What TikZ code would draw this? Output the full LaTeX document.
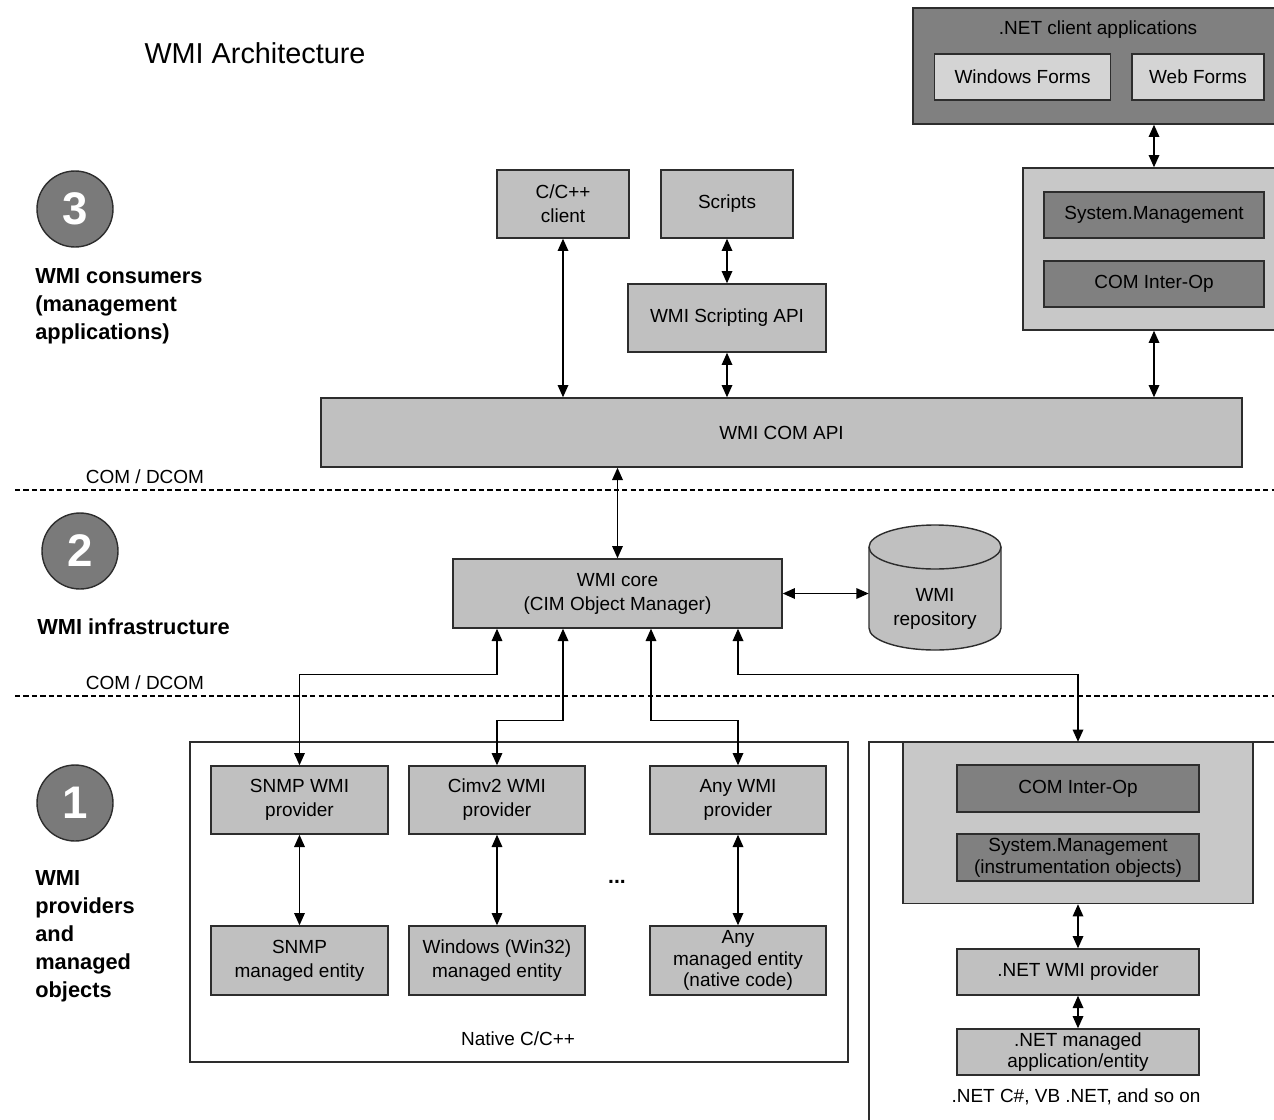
\documentclass[tikz,border=0pt]{standalone}
\usepackage{fontspec}
\setmainfont{Liberation Sans}
\usetikzlibrary{arrows.meta}
\definecolor{boxfill}{RGB}{192,192,192}
\definecolor{darkfill}{RGB}{128,128,128}
\definecolor{lightfill}{RGB}{212,212,212}
\definecolor{panelfill}{RGB}{200,200,200}
\definecolor{tierfill}{RGB}{122,122,122}
\definecolor{edge}{RGB}{45,45,45}
\begin{document}
\begin{tikzpicture}[
  x=0.02cm, y=-0.02cm,
  every node/.style={font=\fontsize{10.8}{13.6}\selectfont, inner sep=0pt, align=center},
  box/.style={draw=edge, line width=0.8pt, fill=boxfill, minimum height=1.36cm},
  darkbox/.style={box, fill=darkfill, minimum height=0.92cm},
  panel/.style={draw=edge, line width=0.8pt, fill=panelfill},
  frame/.style={draw=edge, line width=0.8pt},
  link/.style={<->, >={Triangle[length=7pt,width=6pt]}, line width=0.9pt},
  layer/.style={line width=0.6pt, dash pattern=on 3pt off 1.8pt},
  num/.style={circle, draw=edge, line width=0.8pt, fill=tierfill, minimum size=1.52cm,
    text=white, font=\fontsize{26}{26}\bfseries\selectfont},
  tier/.style={anchor=west, align=left, font=\fontsize{12.4}{15.9}\bfseries\selectfont}]

  \useasboundingbox (0,0) rectangle (1274,1119);
  \clip (0,0) rectangle (1274,1119);

  \node[font=\fontsize{16.4}{20}\selectfont] (title) at (255,53) {WMI Architecture};

  % tiers
  \node[num] (tier3) at (75,209) {3};
  \node[tier] (consumers) at (35,306) {WMI consumers\\(management\\applications)};
  \node[num] (tier2) at (80,551) {2};
  \node[tier] (infra) at (37,627) {WMI infrastructure};
  \node[num] (tier1) at (75,803) {1};
  \node[tier] (providers) at (35,936) {WMI\\providers\\and\\managed\\objects};

  % .NET clients
  \node[frame, fill=darkfill, minimum width=7.54cm, minimum height=2.32cm] (netapps) at (1101.5,66) {};
  \node (netappstitle) at (1098,30) {.NET client applications};
  \node[box, fill=lightfill, minimum width=3.52cm, minimum height=0.92cm] (winforms) at (1022.5,77) {Windows Forms};
  \node[box, fill=lightfill, minimum width=2.64cm, minimum height=0.92cm] (webforms) at (1198,77) {Web Forms};
  \node[panel, minimum width=5.34cm, minimum height=3.24cm] (syspanel) at (1156.5,249) {};
  \node[darkbox, minimum width=4.4cm] (sysmgmt) at (1154,215) {System.Management};
  \node[darkbox, minimum width=4.4cm] (interop) at (1154,284) {COM Inter-Op};

  % consumers
  \node[box, minimum width=2.64cm] (cclient) at (563,204) {C/C++\\client};
  \node[box, minimum width=2.64cm] (scripts) at (727,204) {Scripts};
  \node[box, minimum width=3.96cm] (scriptapi) at (727,318) {WMI Scripting API};
  \node[box, minimum width=18.42cm, minimum height=1.38cm] (comapi) at (781.5,432.5) {WMI COM API};

  \draw[layer] (15,490) -- (1274,490);
  \draw[layer] (15,696) -- (1274,696);
  \node (dcomtop) at (145,477) {COM / DCOM};
  \node (dcombot) at (145,683) {COM / DCOM};

  % infrastructure
  \node[box, minimum width=6.58cm, minimum height=1.38cm] (core) at (617.5,593.5) {WMI core\\(CIM Object Manager)};
  \draw[line width=0.8pt, draw=edge, fill=boxfill] (869,547) -- (869,628)
    arc[start angle=180, end angle=0, x radius=66, y radius=22] -- (1001,547)
    arc[start angle=0, end angle=-180, x radius=66, y radius=22] -- cycle;
  \draw[line width=0.8pt, draw=edge] (869,547) arc[start angle=180, end angle=0, x radius=66, y radius=22];
  \node[minimum width=2.64cm] (repo) at (935,609) {WMI\\repository};

  % native providers
  \node[frame, minimum width=13.16cm, minimum height=6.4cm] (native) at (519,902) {};
  \node (nativelabel) at (518,1039) {Native C/C++};
  \node[box, minimum width=3.54cm] (snmpprov) at (299.5,800) {SNMP WMI\\provider};
  \node[box, minimum width=3.52cm] (cimprov) at (497,800) {Cimv2 WMI\\provider};
  \node[box, minimum width=3.52cm] (anyprov) at (738,800) {Any WMI\\provider};
  \node[box, minimum width=3.54cm, minimum height=1.38cm] (snmpent) at (299.5,960.5) {SNMP\\managed entity};
  \node[box, minimum width=3.52cm, minimum height=1.38cm] (winent) at (497,960.5) {Windows (Win32)\\managed entity};
  \node[box, minimum width=3.52cm, minimum height=1.38cm, font=\fontsize{10.8}{12.4}\selectfont] (anyent) at (738,960.5) {Any\\managed entity\\(native code)};
  \node[font=\fontsize{12}{12}\bfseries\selectfont] (dots) at (617,882) {...};

  % .NET provider
  \node[frame, minimum width=8.42cm, minimum height=7.76cm] (netside) at (1079.5,936) {};
  \node[panel, minimum width=7cm, minimum height=3.22cm] (netpanel) at (1078,823) {};
  \node[darkbox, minimum width=4.84cm, minimum height=0.94cm] (netinterop) at (1078,788.5) {COM Inter-Op};
  \node[darkbox, minimum width=4.84cm, minimum height=0.94cm, font=\fontsize{10.8}{12.4}\selectfont] (netsysmgmt) at (1078,857.5) {System.Management\\(instrumentation objects)};
  \node[box, minimum width=4.84cm, minimum height=0.92cm] (netprov) at (1078,972) {.NET WMI provider};
  \node[box, minimum width=4.84cm, minimum height=0.92cm, font=\fontsize{10.8}{12.4}\selectfont] (netentity) at (1078,1052) {.NET managed\\application/entity};
  \node (netlabel) at (1076,1097) {.NET C\#, VB .NET, and so on};

  % connectors
  \draw[link] (sysmgmt |- netapps.south) -- (sysmgmt |- syspanel.north);
  \draw[link] (sysmgmt |- syspanel.south) -- (sysmgmt |- comapi.north);
  \draw[link] (cclient.south) -- (cclient |- comapi.north);
  \draw[link] (scripts.south) -- (scriptapi.north);
  \draw[link] (scriptapi.south) -- (scriptapi |- comapi.north);
  \draw[link] (comapi.south -| core) -- (core.north);
  \draw[link] (core.east) -- (core.east -| repo.west);
  \draw[link] (core.south -| cimprov) -- ++(0,46) -| (snmpprov.north);
  \draw[link] (core.south -| cclient) -- ++(0,92) -| (cimprov.north);
  \draw[link] ([xshift=0.67cm]core.south) -- ++(0,92) -| (anyprov.north);
  \draw[link] (core.south -| anyprov) -- ++(0,46) -| (netpanel.north);
  \foreach \p/\e in {snmpprov/snmpent, cimprov/winent, anyprov/anyent}
    \draw[link] (\p.south) -- (\e.north);
  \draw[link] (netpanel.south) -- (netprov.north);
  \draw[link] (netprov.south) -- (netentity.north);
\end{tikzpicture}
\end{document}
